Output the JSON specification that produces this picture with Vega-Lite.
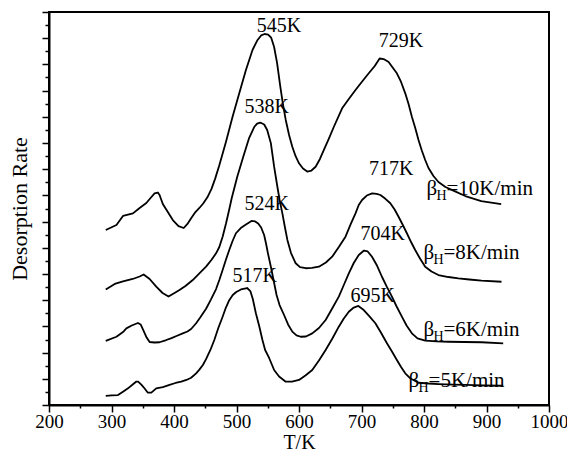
{
  "$schema": "https://vega.github.io/schema/vega-lite/v6.json",
  "width": 500,
  "height": 393,
  "autosize": "none",
  "padding": {"left": 49, "top": 12, "right": 18, "bottom": 48},
  "config": {
    "view": {"stroke": "black", "strokeWidth": 2},
    "font": "Liberation Serif",
    "text": {"font": "Liberation Serif", "color": "black"}
  },
  "datasets": {
    "curves": [
      {"series": "10", "T": 290.8, "rate": 13.36}, {"series": "10", "T": 307.9, "rate": 13.74}, {"series": "10", "T": 318.4, "rate": 14.43}, {"series": "10", "T": 334.3, "rate": 14.63}, {"series": "10", "T": 345.0, "rate": 15.04}, {"series": "10", "T": 355.7, "rate": 15.42}, {"series": "10", "T": 362.5, "rate": 15.80}, {"series": "10", "T": 368.9, "rate": 16.15}, {"series": "10", "T": 374.2, "rate": 16.22}, {"series": "10", "T": 376.9, "rate": 16.03}, {"series": "10", "T": 382.1, "rate": 15.34}, {"series": "10", "T": 390.1, "rate": 14.73}, {"series": "10", "T": 398.1, "rate": 14.12}, {"series": "10", "T": 407.2, "rate": 13.66}, {"series": "10", "T": 415.6, "rate": 13.51}, {"series": "10", "T": 421.5, "rate": 13.82}, {"series": "10", "T": 427.4, "rate": 14.25}, {"series": "10", "T": 434.3, "rate": 14.73}, {"series": "10", "T": 440.6, "rate": 15.04}, {"series": "10", "T": 447.0, "rate": 15.40}, {"series": "10", "T": 453.4, "rate": 15.85}, {"series": "10", "T": 460.0, "rate": 16.50}, {"series": "10", "T": 466.0, "rate": 17.30}, {"series": "10", "T": 472.5, "rate": 18.30}, {"series": "10", "T": 483.2, "rate": 20.10}, {"series": "10", "T": 493.7, "rate": 22.01}, {"series": "10", "T": 504.4, "rate": 23.79}, {"series": "10", "T": 515.1, "rate": 25.57}, {"series": "10", "T": 525.6, "rate": 27.10}, {"series": "10", "T": 533.1, "rate": 27.82}, {"series": "10", "T": 539.4, "rate": 28.21}, {"series": "10", "T": 545.0, "rate": 28.32}, {"series": "10", "T": 550.6, "rate": 28.28}, {"series": "10", "T": 555.4, "rate": 28.05}, {"series": "10", "T": 560.2, "rate": 27.33}, {"series": "10", "T": 564.9, "rate": 26.11}, {"series": "10", "T": 569.7, "rate": 24.43}, {"series": "10", "T": 574.5, "rate": 22.90}, {"series": "10", "T": 578.8, "rate": 21.76}, {"series": "10", "T": 584.1, "rate": 20.61}, {"series": "10", "T": 589.3, "rate": 19.72}, {"series": "10", "T": 594.4, "rate": 19.01}, {"series": "10", "T": 600.0, "rate": 18.45}, {"series": "10", "T": 606.4, "rate": 18.05}, {"series": "10", "T": 613.2, "rate": 17.82}, {"series": "10", "T": 619.9, "rate": 17.90}, {"series": "10", "T": 626.6, "rate": 18.19}, {"series": "10", "T": 633.5, "rate": 18.78}, {"series": "10", "T": 639.8, "rate": 19.47}, {"series": "10", "T": 647.8, "rate": 20.34}, {"series": "10", "T": 655.8, "rate": 21.24}, {"series": "10", "T": 669.0, "rate": 22.65}, {"series": "10", "T": 679.7, "rate": 23.36}, {"series": "10", "T": 690.4, "rate": 24.05}, {"series": "10", "T": 700.4, "rate": 24.66}, {"series": "10", "T": 711.6, "rate": 25.32}, {"series": "10", "T": 721.2, "rate": 25.88}, {"series": "10", "T": 729.0, "rate": 26.45}, {"series": "10", "T": 735.4, "rate": 26.41}, {"series": "10", "T": 743.4, "rate": 26.18}, {"series": "10", "T": 749.8, "rate": 25.76}, {"series": "10", "T": 756.6, "rate": 25.32}, {"series": "10", "T": 763.3, "rate": 24.66}, {"series": "10", "T": 770.0, "rate": 23.79}, {"series": "10", "T": 775.3, "rate": 22.98}, {"series": "10", "T": 780.6, "rate": 22.01}, {"series": "10", "T": 786.0, "rate": 21.15}, {"series": "10", "T": 791.2, "rate": 20.23}, {"series": "10", "T": 796.5, "rate": 19.43}, {"series": "10", "T": 801.9, "rate": 18.70}, {"series": "10", "T": 807.2, "rate": 18.09}, {"series": "10", "T": 815.1, "rate": 17.48}, {"series": "10", "T": 823.1, "rate": 17.02}, {"series": "10", "T": 834.3, "rate": 16.64}, {"series": "10", "T": 847.0, "rate": 16.37}, {"series": "10", "T": 866.1, "rate": 15.95}, {"series": "10", "T": 891.6, "rate": 15.57}, {"series": "10", "T": 923.5, "rate": 15.34},

      {"series": "8", "T": 290.8, "rate": 8.82}, {"series": "8", "T": 305.2, "rate": 9.24}, {"series": "8", "T": 318.4, "rate": 9.43}, {"series": "8", "T": 333.9, "rate": 9.62}, {"series": "8", "T": 345.0, "rate": 9.81}, {"series": "8", "T": 351.4, "rate": 9.96}, {"series": "8", "T": 355.7, "rate": 9.81}, {"series": "8", "T": 361.0, "rate": 9.62}, {"series": "8", "T": 371.6, "rate": 9.03}, {"series": "8", "T": 381.7, "rate": 8.55}, {"series": "8", "T": 391.2, "rate": 8.28}, {"series": "8", "T": 400.8, "rate": 8.55}, {"series": "8", "T": 408.8, "rate": 8.78}, {"series": "8", "T": 418.3, "rate": 9.08}, {"series": "8", "T": 430.0, "rate": 9.54}, {"series": "8", "T": 440.6, "rate": 10.04}, {"series": "8", "T": 451.3, "rate": 10.56}, {"series": "8", "T": 459.8, "rate": 11.07}, {"series": "8", "T": 467.3, "rate": 11.58}, {"series": "8", "T": 472.5, "rate": 12.06}, {"series": "8", "T": 477.8, "rate": 12.85}, {"series": "8", "T": 483.2, "rate": 13.85}, {"series": "8", "T": 488.0, "rate": 14.85}, {"series": "8", "T": 492.4, "rate": 15.80}, {"series": "8", "T": 501.2, "rate": 17.43}, {"series": "8", "T": 510.8, "rate": 18.95}, {"series": "8", "T": 520.3, "rate": 20.40}, {"series": "8", "T": 528.3, "rate": 21.22}, {"series": "8", "T": 533.0, "rate": 21.48}, {"series": "8", "T": 538.0, "rate": 21.56}, {"series": "8", "T": 544.3, "rate": 21.41}, {"series": "8", "T": 549.1, "rate": 20.99}, {"series": "8", "T": 555.0, "rate": 19.98}, {"series": "8", "T": 560.2, "rate": 18.19}, {"series": "8", "T": 565.4, "rate": 16.66}, {"series": "8", "T": 569.0, "rate": 15.65}, {"series": "8", "T": 573.4, "rate": 14.63}, {"series": "8", "T": 577.7, "rate": 13.51}, {"series": "8", "T": 581.4, "rate": 12.60}, {"series": "8", "T": 587.2, "rate": 11.60}, {"series": "8", "T": 594.7, "rate": 10.82}, {"series": "8", "T": 601.6, "rate": 10.53}, {"series": "8", "T": 610.7, "rate": 10.44}, {"series": "8", "T": 620.7, "rate": 10.46}, {"series": "8", "T": 631.9, "rate": 10.56}, {"series": "8", "T": 643.0, "rate": 10.88}, {"series": "8", "T": 653.1, "rate": 11.32}, {"series": "8", "T": 663.7, "rate": 12.06}, {"series": "8", "T": 674.4, "rate": 12.85}, {"series": "8", "T": 682.9, "rate": 13.82}, {"series": "8", "T": 690.4, "rate": 14.63}, {"series": "8", "T": 695.6, "rate": 15.27}, {"series": "8", "T": 700.9, "rate": 15.65}, {"series": "8", "T": 708.4, "rate": 15.99}, {"series": "8", "T": 717.0, "rate": 16.15}, {"series": "8", "T": 724.3, "rate": 16.11}, {"series": "8", "T": 730.2, "rate": 16.03}, {"series": "8", "T": 737.8, "rate": 15.76}, {"series": "8", "T": 746.1, "rate": 15.40}, {"series": "8", "T": 753.0, "rate": 14.92}, {"series": "8", "T": 759.3, "rate": 14.37}, {"series": "8", "T": 765.7, "rate": 13.78}, {"series": "8", "T": 772.6, "rate": 13.11}, {"series": "8", "T": 779.3, "rate": 12.44}, {"series": "8", "T": 785.9, "rate": 11.83}, {"series": "8", "T": 793.6, "rate": 11.18}, {"series": "8", "T": 801.9, "rate": 10.56}, {"series": "8", "T": 812.0, "rate": 10.19}, {"series": "8", "T": 823.1, "rate": 9.92}, {"series": "8", "T": 839.0, "rate": 9.77}, {"series": "8", "T": 855.0, "rate": 9.67}, {"series": "8", "T": 872.5, "rate": 9.58}, {"series": "8", "T": 892.1, "rate": 9.49}, {"series": "8", "T": 924.0, "rate": 9.41},

      {"series": "6", "T": 290.8, "rate": 4.89}, {"series": "6", "T": 307.9, "rate": 5.21}, {"series": "6", "T": 318.4, "rate": 5.57}, {"series": "6", "T": 323.8, "rate": 5.85}, {"series": "6", "T": 332.3, "rate": 6.07}, {"series": "6", "T": 342.3, "rate": 6.26}, {"series": "6", "T": 346.6, "rate": 6.15}, {"series": "6", "T": 351.4, "rate": 5.65}, {"series": "6", "T": 356.2, "rate": 5.15}, {"series": "6", "T": 361.0, "rate": 4.81}, {"series": "6", "T": 368.9, "rate": 4.77}, {"series": "6", "T": 376.9, "rate": 4.79}, {"series": "6", "T": 387.6, "rate": 4.96}, {"series": "6", "T": 396.0, "rate": 5.11}, {"series": "6", "T": 404.0, "rate": 5.27}, {"series": "6", "T": 414.0, "rate": 5.47}, {"series": "6", "T": 421.5, "rate": 5.61}, {"series": "6", "T": 427.4, "rate": 5.80}, {"series": "6", "T": 435.4, "rate": 6.24}, {"series": "6", "T": 442.2, "rate": 6.70}, {"series": "6", "T": 451.3, "rate": 7.35}, {"series": "6", "T": 459.0, "rate": 8.05}, {"series": "6", "T": 467.3, "rate": 8.85}, {"series": "6", "T": 472.5, "rate": 9.54}, {"series": "6", "T": 477.8, "rate": 10.31}, {"series": "6", "T": 482.9, "rate": 11.07}, {"series": "6", "T": 488.4, "rate": 11.83}, {"series": "6", "T": 493.7, "rate": 12.52}, {"series": "6", "T": 499.1, "rate": 13.11}, {"series": "6", "T": 506.8, "rate": 13.51}, {"series": "6", "T": 515.1, "rate": 13.78}, {"series": "6", "T": 524.0, "rate": 14.05}, {"series": "6", "T": 529.9, "rate": 14.01}, {"series": "6", "T": 534.7, "rate": 13.85}, {"series": "6", "T": 539.4, "rate": 13.55}, {"series": "6", "T": 544.2, "rate": 12.98}, {"series": "6", "T": 547.4, "rate": 12.29}, {"series": "6", "T": 550.3, "rate": 11.58}, {"series": "6", "T": 555.4, "rate": 10.46}, {"series": "6", "T": 560.2, "rate": 9.31}, {"series": "6", "T": 564.1, "rate": 8.40}, {"series": "6", "T": 568.9, "rate": 7.63}, {"series": "6", "T": 576.1, "rate": 6.87}, {"series": "6", "T": 582.5, "rate": 6.15}, {"series": "6", "T": 589.3, "rate": 5.60}, {"series": "6", "T": 596.0, "rate": 5.31}, {"series": "6", "T": 602.7, "rate": 5.21}, {"series": "6", "T": 611.1, "rate": 5.23}, {"series": "6", "T": 621.2, "rate": 5.47}, {"series": "6", "T": 631.9, "rate": 5.88}, {"series": "6", "T": 642.6, "rate": 6.49}, {"series": "6", "T": 652.6, "rate": 7.33}, {"series": "6", "T": 663.7, "rate": 8.27}, {"series": "6", "T": 671.7, "rate": 9.16}, {"series": "6", "T": 679.7, "rate": 10.05}, {"series": "6", "T": 687.6, "rate": 10.84}, {"series": "6", "T": 695.6, "rate": 11.45}, {"series": "6", "T": 704.0, "rate": 11.79}, {"series": "6", "T": 709.9, "rate": 11.72}, {"series": "6", "T": 716.8, "rate": 11.32}, {"series": "6", "T": 724.3, "rate": 10.69}, {"series": "6", "T": 732.7, "rate": 9.79}, {"series": "6", "T": 740.2, "rate": 9.05}, {"series": "6", "T": 748.7, "rate": 8.27}, {"series": "6", "T": 756.2, "rate": 7.52}, {"series": "6", "T": 764.6, "rate": 6.74}, {"series": "6", "T": 772.1, "rate": 6.07}, {"series": "6", "T": 780.6, "rate": 5.47}, {"series": "6", "T": 789.6, "rate": 5.08}, {"series": "6", "T": 801.9, "rate": 4.91}, {"series": "6", "T": 819.9, "rate": 4.85}, {"series": "6", "T": 839.0, "rate": 4.83}, {"series": "6", "T": 864.5, "rate": 4.81}, {"series": "6", "T": 892.1, "rate": 4.79}, {"series": "6", "T": 926.7, "rate": 4.71},

      {"series": "5", "T": 290.8, "rate": 0.69}, {"series": "5", "T": 300.4, "rate": 0.73}, {"series": "5", "T": 310.4, "rate": 0.76}, {"series": "5", "T": 318.4, "rate": 1.02}, {"series": "5", "T": 326.4, "rate": 1.27}, {"series": "5", "T": 333.9, "rate": 1.56}, {"series": "5", "T": 339.8, "rate": 1.79}, {"series": "5", "T": 342.6, "rate": 1.79}, {"series": "5", "T": 347.7, "rate": 1.56}, {"series": "5", "T": 353.0, "rate": 1.26}, {"series": "5", "T": 358.2, "rate": 0.94}, {"series": "5", "T": 363.7, "rate": 0.94}, {"series": "5", "T": 371.6, "rate": 1.27}, {"series": "5", "T": 382.1, "rate": 1.37}, {"series": "5", "T": 392.8, "rate": 1.53}, {"series": "5", "T": 402.4, "rate": 1.68}, {"series": "5", "T": 411.5, "rate": 1.78}, {"series": "5", "T": 419.9, "rate": 1.91}, {"series": "5", "T": 427.4, "rate": 2.08}, {"series": "5", "T": 435.4, "rate": 2.42}, {"series": "5", "T": 440.6, "rate": 2.70}, {"series": "5", "T": 446.2, "rate": 3.05}, {"series": "5", "T": 451.3, "rate": 3.50}, {"series": "5", "T": 458.2, "rate": 4.20}, {"series": "5", "T": 464.5, "rate": 4.96}, {"series": "5", "T": 470.9, "rate": 5.88}, {"series": "5", "T": 477.8, "rate": 6.74}, {"series": "5", "T": 482.9, "rate": 7.42}, {"series": "5", "T": 488.4, "rate": 8.00}, {"series": "5", "T": 494.0, "rate": 8.40}, {"series": "5", "T": 499.6, "rate": 8.63}, {"series": "5", "T": 507.1, "rate": 8.82}, {"series": "5", "T": 517.0, "rate": 8.93}, {"series": "5", "T": 522.1, "rate": 8.70}, {"series": "5", "T": 526.1, "rate": 8.09}, {"series": "5", "T": 531.0, "rate": 7.00}, {"series": "5", "T": 536.3, "rate": 6.03}, {"series": "5", "T": 541.5, "rate": 4.96}, {"series": "5", "T": 545.8, "rate": 4.20}, {"series": "5", "T": 552.2, "rate": 3.59}, {"series": "5", "T": 560.2, "rate": 2.67}, {"series": "5", "T": 568.1, "rate": 2.18}, {"series": "5", "T": 578.8, "rate": 1.78}, {"series": "5", "T": 588.8, "rate": 1.79}, {"series": "5", "T": 600.0, "rate": 1.91}, {"series": "5", "T": 610.3, "rate": 2.25}, {"series": "5", "T": 621.2, "rate": 2.67}, {"series": "5", "T": 631.9, "rate": 3.40}, {"series": "5", "T": 642.6, "rate": 4.20}, {"series": "5", "T": 653.4, "rate": 5.08}, {"series": "5", "T": 663.7, "rate": 5.98}, {"series": "5", "T": 671.7, "rate": 6.60}, {"series": "5", "T": 679.7, "rate": 7.12}, {"series": "5", "T": 687.6, "rate": 7.44}, {"series": "5", "T": 695.0, "rate": 7.56}, {"series": "5", "T": 703.6, "rate": 7.25}, {"series": "5", "T": 712.4, "rate": 6.79}, {"series": "5", "T": 722.2, "rate": 6.24}, {"series": "5", "T": 731.5, "rate": 5.50}, {"series": "5", "T": 740.7, "rate": 4.71}, {"series": "5", "T": 748.7, "rate": 4.08}, {"series": "5", "T": 756.6, "rate": 3.44}, {"series": "5", "T": 763.3, "rate": 2.90}, {"series": "5", "T": 770.0, "rate": 2.42}, {"series": "5", "T": 778.5, "rate": 2.02}, {"series": "5", "T": 791.2, "rate": 1.70}, {"series": "5", "T": 807.2, "rate": 1.64}, {"series": "5", "T": 823.1, "rate": 1.60}, {"series": "5", "T": 847.0, "rate": 1.56}, {"series": "5", "T": 865.7, "rate": 1.53}, {"series": "5", "T": 894.8, "rate": 1.50}, {"series": "5", "T": 926.7, "rate": 1.47}
    ],
    "peaks": [
      {"T": 568.1, "rate": 28.5, "label": "545K"},
      {"T": 763.3, "rate": 27.35, "label": "729K"},
      {"T": 548.2, "rate": 22.27, "label": "538K"},
      {"T": 747.4, "rate": 17.56, "label": "717K"},
      {"T": 548.2, "rate": 14.89, "label": "524K"},
      {"T": 733.9, "rate": 12.6, "label": "704K"},
      {"T": 529.1, "rate": 9.41, "label": "517K"},
      {"T": 717.9, "rate": 7.89, "label": "695K"}
    ],
    "rates": [
      {"T": 804.0, "rate": 16.0, "rest": "=10K/min"},
      {"T": 799.2, "rate": 11.12, "rest": "=8K/min"},
      {"T": 799.2, "rate": 5.27, "rest": "=6K/min"},
      {"T": 775.3, "rate": 1.35, "rest": "=5K/min"}
    ]
  },
  "encoding": {
    "x": {
      "field": "T",
      "type": "quantitative",
      "scale": {"domain": [200, 1000], "nice": false, "zero": false},
      "axis": {
        "title": "T/K",
        "values": [200, 250, 300, 350, 400, 450, 500, 550, 600, 650, 700, 750, 800, 850, 900, 950, 1000],
        "labelExpr": "datum.value % 100 === 0 ? datum.label : ''",
        "format": "d",
        "grid": false,
        "domainColor": "black",
        "domainWidth": 2,
        "tickColor": "black",
        "tickWidth": 1.5,
        "tickSize": {"condition": {"test": "datum.value % 100 === 0", "value": 7}, "value": 3},
        "labelFont": "Liberation Serif",
        "labelFontSize": 19,
        "labelColor": "black",
        "labelPadding": 0,
        "labelOverlap": false,
        "labelFlush": false,
        "titleFont": "Liberation Serif",
        "titleFontSize": 20,
        "titleFontWeight": "normal",
        "titleColor": "black",
        "titlePadding": 1
      }
    },
    "y": {
      "field": "rate",
      "type": "quantitative",
      "scale": {"domain": [0, 30], "nice": false},
      "axis": {
        "title": "Desorption Rate",
        "values": [0, 1, 2, 3, 4, 5, 6, 7, 8, 9, 10, 11, 12, 13, 14, 15, 16, 17, 18, 19, 20, 21, 22, 23, 24, 25, 26, 27, 28, 29, 30],
        "labels": false,
        "grid": false,
        "domainColor": "black",
        "domainWidth": 2,
        "tickColor": "black",
        "tickWidth": 1.5,
        "tickSize": {"condition": {"test": "datum.value % 2 === 0", "value": 7}, "value": 4},
        "titleFont": "Liberation Serif",
        "titleFontSize": 22,
        "titleFontWeight": "normal",
        "titleColor": "black",
        "titlePadding": 10
      }
    }
  },
  "layer": [
    {
      "data": {"name": "curves"},
      "mark": {"type": "line", "color": "black", "strokeWidth": 1.8, "strokeJoin": "round"},
      "encoding": {"detail": {"field": "series"}}
    },
    {
      "data": {"name": "peaks"},
      "mark": {"type": "text", "fontSize": 20, "align": "center", "baseline": "alphabetic"},
      "encoding": {"text": {"field": "label"}}
    },
    {
      "data": {"name": "rates"},
      "mark": {"type": "text", "fontSize": 21, "align": "left", "baseline": "alphabetic"},
      "encoding": {"text": {"value": "β"}}
    },
    {
      "data": {"name": "rates"},
      "mark": {"type": "text", "fontSize": 14, "align": "left", "baseline": "alphabetic", "dx": 10, "dy": 5},
      "encoding": {"text": {"value": "H"}}
    },
    {
      "data": {"name": "rates"},
      "mark": {"type": "text", "fontSize": 21, "align": "left", "baseline": "alphabetic", "dx": 20},
      "encoding": {"text": {"field": "rest"}}
    }
  ]
}
